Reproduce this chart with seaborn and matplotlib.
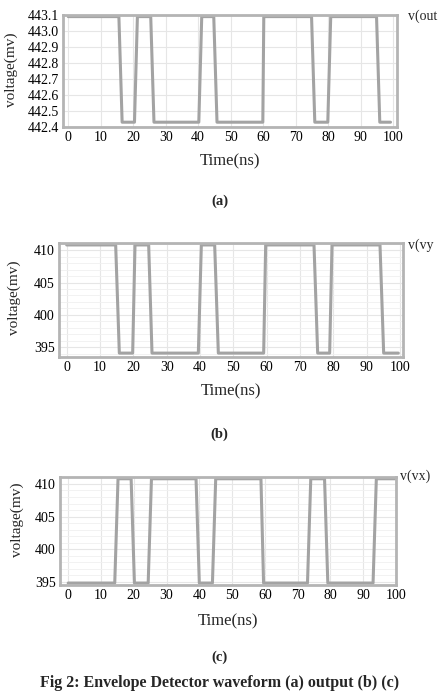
import numpy as np
import pandas as pd
import matplotlib
matplotlib.use("Agg")
import matplotlib.pyplot as plt
from matplotlib.ticker import MultipleLocator
import seaborn as sns

# ---------------- data ----------------
time_ticks = [0, 10, 20, 30, 40, 50, 60, 70, 80, 90, 100]

# (a) v(out) breakpoints
a_time = [0, 15.6, 16.6, 20.4, 21.3, 25.4, 26.4, 40.2, 41.1, 44.8, 45.8, 59.9, 60.2,
          74.9, 75.9, 79.9, 80.8, 94.9, 95.9, 99.2]
a_volt = [443.09, 443.09, 442.43, 442.43, 443.09, 443.09, 442.43, 442.43, 443.09, 443.09,
          442.43, 442.43, 443.09, 443.09, 442.43, 442.43, 443.09, 443.09, 442.43, 442.43]
a_yticks = [442.4, 442.5, 442.6, 442.7, 442.8, 442.9, 443.0, 443.1]

# (b) v(vy) breakpoints
b_time = [0, 14.7, 15.8, 19.8, 20.5, 24.6, 25.6, 39.5, 40.4, 44.4, 45.5, 59.1, 59.7,
          74.2, 75.3, 78.9, 79.6, 94.0, 95.1, 99.5]
b_volt = [410.8, 410.8, 394.1, 394.1, 410.8, 410.8, 394.1, 394.1, 410.8, 410.8,
          394.1, 394.1, 410.8, 410.8, 394.1, 394.1, 410.8, 410.8, 394.1, 394.1]
b_yticks = [395, 400, 405, 410]

# (c) v(vx) breakpoints
c_time = [0, 14.2, 15.2, 19.2, 20.2, 24.4, 25.4, 39.0, 40.0, 44.0, 45.0, 58.8, 59.6,
          73.0, 74.0, 78.2, 79.2, 93.0, 94.0, 100]
c_volt = [394.8, 394.8, 410.8, 410.8, 394.8, 394.8, 410.8, 410.8, 394.8, 394.8,
          410.8, 410.8, 394.8, 394.8, 410.8, 410.8, 394.8, 394.8, 410.8, 410.8]
c_yticks = [395, 400, 405, 410]

labels = ["v(out", "v(vy", "v(vx)"]
captions = ["(a)", "(b)", "(c)"]
fig_caption = "Fig 2: Envelope Detector waveform (a) output (b) (c)"

# ---------------- style ----------------
sns.set_style("white")
plt.rcParams["font.family"] = ["Liberation Serif", "DejaVu Serif"]

W, H = 439, 697
fig = plt.figure(figsize=(W / 100, H / 100), dpi=100)

def box(l, t, r, b):
    return [l / W, 1 - b / H, (r - l) / W, (b - t) / H]

panels = [
    dict(rect=box(63, 15, 397, 127), t=a_time, v=a_volt, yt=a_yticks,
         xlim=(-1.6, 101.2), ylim=(442.4, 443.1), ymin=0.05, yfmt="{:.1f}",
         lab=(408, 16), lab_text=labels[0], ylab=(11, 70), xlab=161, cap=201),
    dict(rect=box(59, 243, 403, 357), t=b_time, v=b_volt, yt=b_yticks,
         xlim=(-2.3, 100.9), ylim=(393.5, 411.1), ymin=1.0, yfmt="{:.0f}",
         lab=(408, 245), lab_text=labels[1], ylab=(14, 298), xlab=391, cap=434),
    dict(rect=box(60, 477, 396, 585), t=c_time, v=c_volt, yt=c_yticks,
         xlim=(-2.5, 100.0), ylim=(394.5, 411.07), ymin=1.0, yfmt="{:.0f}",
         lab=(400, 476), lab_text=labels[2], ylab=(17, 520), xlab=621, cap=657),
]

grey_line = "#a3a3a3"
frame_col = "#b4b4b4"
grid_col = "#e6e6e6"

for i, p in enumerate(panels):
    ax = fig.add_axes(p["rect"])
    df = pd.DataFrame({"time": p["t"], "volt": p["v"]})
    sns.lineplot(data=df, x="time", y="volt", ax=ax, color=grey_line, lw=2.2,
                 sort=False, estimator=None)
    ax.set_xlim(*p["xlim"])
    ax.set_ylim(*p["ylim"])
    ax.set_xticks(time_ticks)
    ax.set_xticklabels([str(t) for t in time_ticks], fontsize=10)
    ax.set_yticks(p["yt"])
    ax.set_yticklabels([p["yfmt"].format(y) for y in p["yt"]], fontsize=10)
    ax.yaxis.set_minor_locator(MultipleLocator(p["ymin"]))
    ax.xaxis.set_minor_locator(MultipleLocator(5))
    ax.grid(True, which="major", color=grid_col, lw=0.8)
    if i:
        ax.grid(True, which="minor", axis="y", color="#f0f0f0", lw=0.6)
    ax.tick_params(axis="both", which="major", direction="in", length=3,
                   color="#c8c8c8", width=0.8, pad=3, labelcolor="black")
    ax.tick_params(axis="both", which="minor", direction="in", length=2,
                   color="#d0d0d0", width=0.6)
    for s in ax.spines.values():
        s.set_color(frame_col)
        s.set_linewidth(2.0)
    ax.set_xlabel("")
    ax.set_ylabel("")
    fig.text(p["ylab"][0] / W, 1 - p["ylab"][1] / H, "voltage(mv)", rotation=90,
             ha="center", va="center", fontsize=11)
    fig.text(p["rect"][0] + p["rect"][2] / 2, 1 - p["xlab"] / H, "Time(ns)",
             ha="center", va="center", fontsize=12)
    fig.text(p["lab"][0] / W, 1 - p["lab"][1] / H, p["lab_text"], ha="left",
             va="center", fontsize=10)
    fig.text(0.5, 1 - p["cap"] / H, captions[i], ha="center", va="center",
             fontsize=10.5, fontweight="bold")

fig.text(0.5, 1 - 683 / H, fig_caption, ha="center", va="center",
         fontsize=11.5, fontweight="bold")

fig.savefig("out.png", dpi=100)
